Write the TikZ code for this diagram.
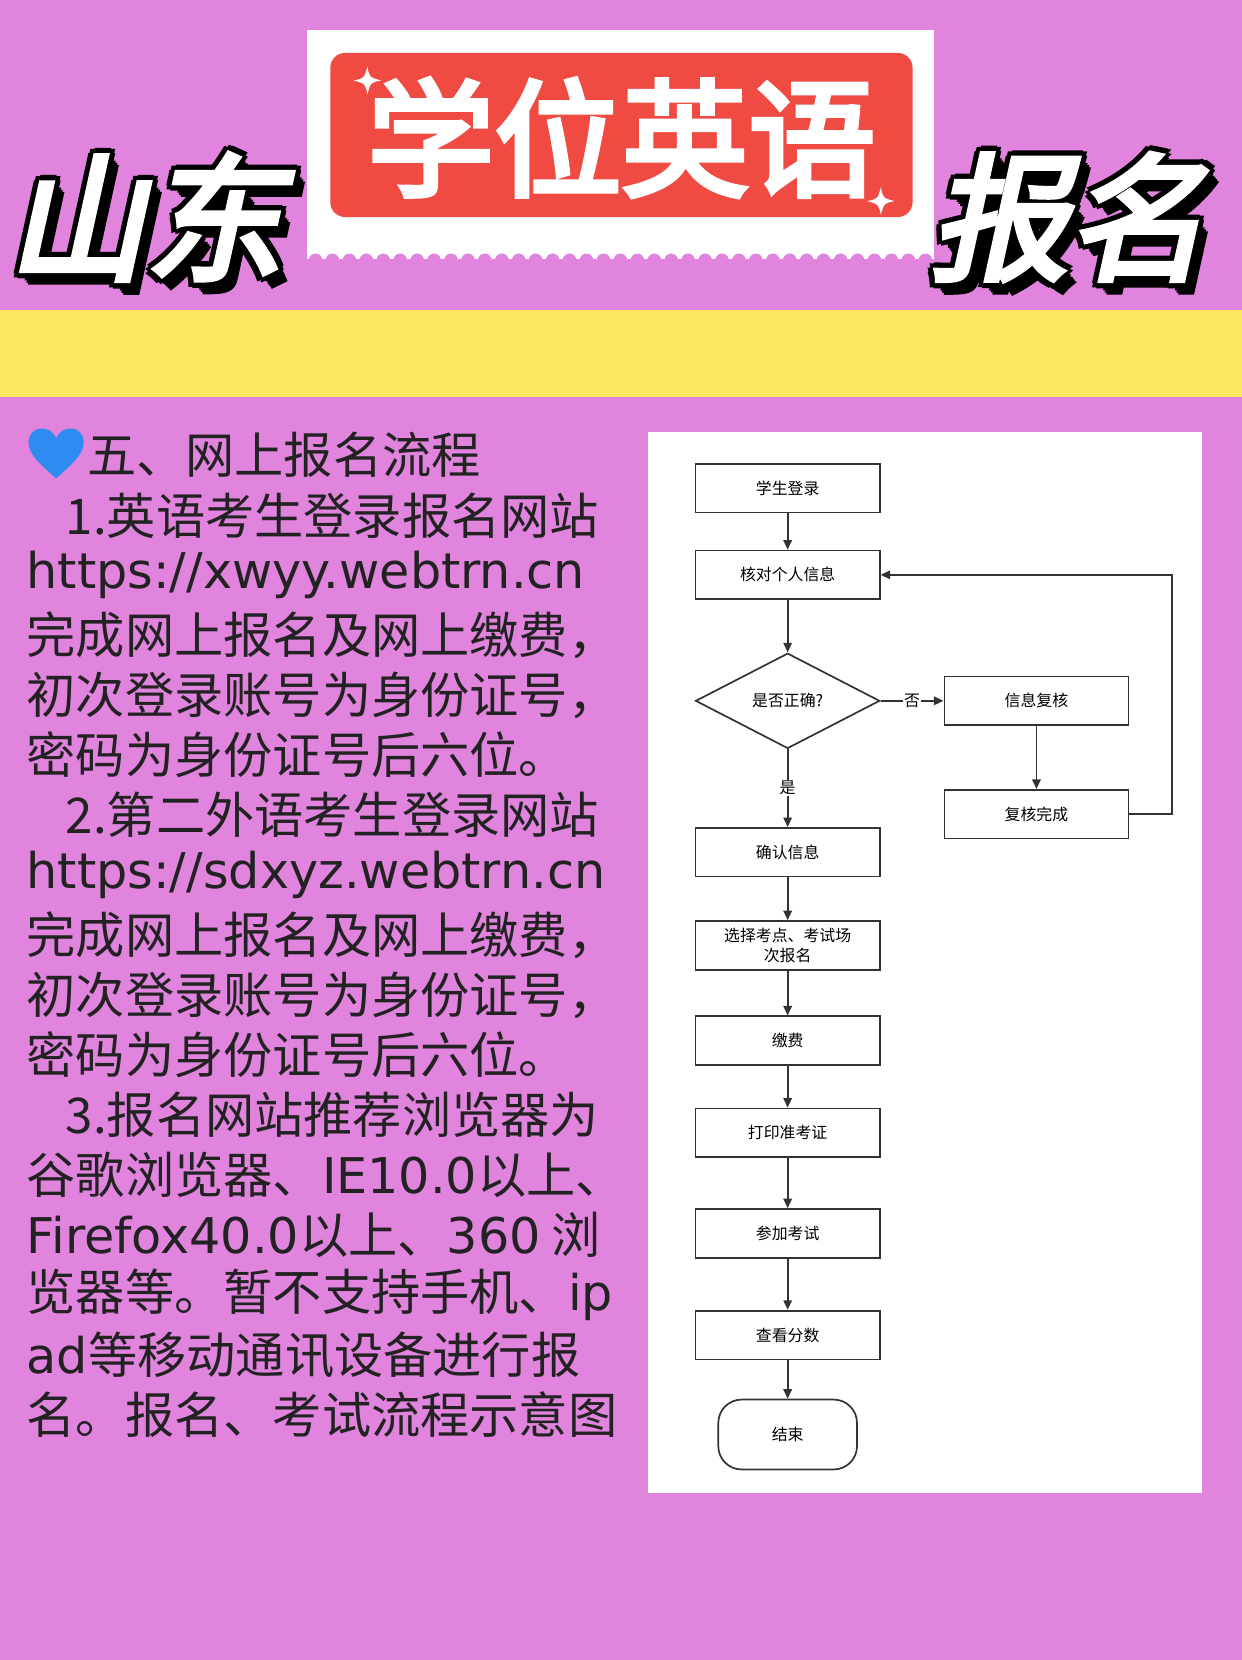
\documentclass[tikz,border=0pt]{standalone}
\usepackage{fontspec}
\newfontfamily\cjk{Noto Sans CJK SC}
\newfontfamily\cjkb[FakeBold=4]{Noto Sans CJK SC}
\newfontfamily\dv{DejaVu Sans}
\usetikzlibrary{shapes.geometric,arrows.meta}
\definecolor{bgpink}{HTML}{E084DD}
\definecolor{band}{HTML}{FDE95F}
\definecolor{redbox}{HTML}{EF4B43}
\definecolor{txt}{HTML}{222222}
\definecolor{heart}{HTML}{2F8BF0}
\tikzset{
 flowbox/.style={draw=black!80,line width=1.6pt,minimum width=174pt,minimum height=46pt,inner sep=1pt,font=\cjk\fontsize{15}{17}\selectfont,fill=white,align=center},
 conn/.style={draw=black!80,line width=1.6pt,-{Triangle[length=9pt,width=8pt]}},
 para/.style={anchor=west,inner sep=0,font=\cjk\fontsize{46.5}{50}\selectfont,text=txt},
 big/.style={font=\cjkb\fontsize{130}{130}\selectfont,inner sep=0,xslant=0.22},
}
\newcommand{\outlined}[3]{%
 \foreach \dx/\dy in {-5/0,5/0,0/-5,0/5,-4/-4,4/4,-4/4,4/-4,7/7,9/9,11/11}{\node[big,text=black,xshift=\dx pt,yshift=-\dy pt] at #1 {#3};}
 \node[big,text=white] (#2) at #1 {#3};}
\begin{document}
\begin{tikzpicture}[x=1pt,y=-1pt]
\useasboundingbox (0,0) rectangle (1173,1568);
\fill[bgpink] (0,0) rectangle (1173,1568);
\fill[band] (0,293) rectangle (1173,375);
% header card
\fill[white] (290,28) rectangle (882,245);
\foreach \i in {0,...,36}{\fill[bgpink] (298+\i*16,246) circle (6.5);}
\fill[redbox,rounded corners=14pt] (312,50) rectangle (862,205);
\node[font=\cjkb\fontsize{120}{120}\selectfont,text=white,inner sep=0] (title) at (587,130) {学位英语};
\foreach \p in {(347,76),(832,190)}{
 \fill[white] \p ++(0,-13) .. controls +(2,10) .. ++(13,13) .. controls +(-10,2) .. ++(-13,13) .. controls +(-2,-10) .. ++(-13,-13) .. controls +(10,-2) .. cycle;}
\outlined{(148,205)}{shan}{山东}
\outlined{(1020,205)}{bao}{报名}
% heart
\fill[heart] (53,452) .. controls (40,440) and (27,430) .. (27,418) .. controls (27,402) and (47,400) .. (53,414) .. controls (59,400) and (79,402) .. (79,418) .. controls (79,430) and (66,440) .. (53,452) -- cycle;
% left text
\node[para] (l0) at (82,430) {五、网上报名流程};
\node[para] (l1) at (62,487) {1.英语考生登录报名网站};
\node[para] (l2) at (25,543) {\dv https://xwyy.webtrn.cn};
\node[para] (l3) at (25,600) {完成网上报名及网上缴费，};
\node[para] (l4) at (25,657) {初次登录账号为身份证号，};
\node[para] (l5) at (25,713) {密码为身份证号后六位。};
\node[para] (l6) at (62,770) {2.第二外语考生登录网站};
\node[para] (l7) at (25,826) {\dv https://sdxyz.webtrn.cn};
\node[para] (l8) at (25,883) {完成网上报名及网上缴费，};
\node[para] (l9) at (25,940) {初次登录账号为身份证号，};
\node[para] (l10) at (25,996) {密码为身份证号后六位。};
\node[para] (l11) at (62,1053) {3.报名网站推荐浏览器为};
\node[para] (l12) at (25,1110) {谷歌浏览器、{\dv IE10.0}以上、};
\node[para] (l13) at (25,1166) {{\dv Firefox40.0}以上、{\dv 360} 浏};
\node[para] (l14) at (25,1223) {览器等。暂不支持手机、{\dv ip}};
\node[para] (l15) at (25,1280) {{\dv ad}等移动通讯设备进行报};
\node[para] (l16) at (25,1336) {名。报名、考试流程示意图};
% flowchart panel
\fill[white] (612,408) rectangle (1135,1410);
\node[flowbox] (a) at (744,461) {学生登录};
\node[flowbox] (b) at (744,543) {核对个人信息};
\node[diamond,draw=black!80,line width=1.6pt,aspect=1.93,minimum width=174pt,minimum height=90pt,inner sep=0,font=\cjk\fontsize{15}{17}\selectfont] (c) at (744,662) {是否正确?};
\node[flowbox] (d) at (979,662) {信息复核};
\node[flowbox] (e) at (979,769) {复核完成};
\node[flowbox] (f) at (744,805) {确认信息};
\node[flowbox,font=\cjk\fontsize{15}{19}\selectfont] (g) at (744,893) {选择考点、考试场\\次报名};
\node[flowbox] (h) at (744,983) {缴费};
\node[flowbox] (i) at (744,1070) {打印准考证};
\node[flowbox] (j) at (744,1165) {参加考试};
\node[flowbox] (k) at (744,1261) {查看分数};
\node[flowbox,minimum width=131pt,minimum height=66pt,rounded corners=22pt] (m) at (744,1355) {结束};
\draw[conn] (a) -- (b);
\draw[conn] (b) -- (c);
\draw[conn] (c) -- node[fill=white,inner sep=1pt,font=\cjk\fontsize{15}{17}\selectfont]{否} (d);
\draw[conn] (c) -- node[fill=white,inner sep=1pt,font=\cjk\fontsize{15}{17}\selectfont]{是} (f);
\draw[conn] (d) -- (e);
\coordinate (r1) at (1107,769);
\coordinate (r2) at (1107,543);
\draw[conn] (e.east) -- (r1) -- (r2) -- (b.east);
\draw[conn] (f) -- (g);
\draw[conn] (g) -- (h);
\draw[conn] (h) -- (i);
\draw[conn] (i) -- (j);
\draw[conn] (j) -- (k);
\draw[conn] (k) -- (m);
\end{tikzpicture}
\end{document}
